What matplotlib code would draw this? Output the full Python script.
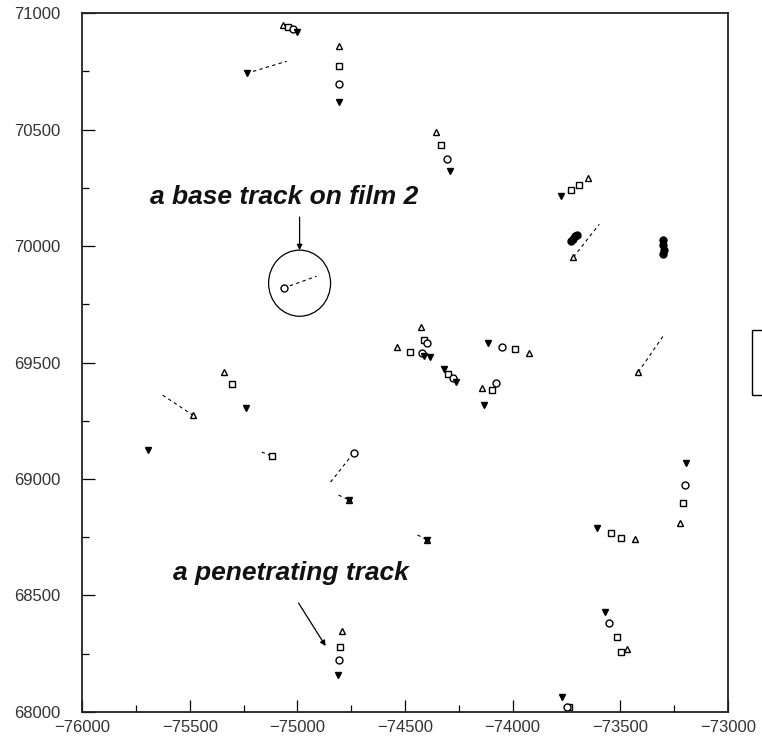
import matplotlib
matplotlib.use("Agg")
import matplotlib.pyplot as plt
from matplotlib.patches import Ellipse, Rectangle
from matplotlib.ticker import MultipleLocator

# track segments, one array per film marker
tri_up_x = [-75069, -74809, -74354, -73648, -73717, -74535, -74424, -73922,
            -75343, -73430, -73467, -74795, -73416, -73221, -74758, -74396,
            -75487, -74140]
tri_up_y = [70948, 70858, 70489, 70292, 69953, 69567, 69652, 69541,
            69459, 68742, 68270, 68348, 69459, 68811, 68910, 68738,
            69275, 69390]

square_x = [-75046, -74809, -74335, -73727, -73690, -74479, -74414, -73991,
            -75306, -75120, -73541, -73495, -73207, -73513, -73495, -73736,
            -74804, -74094, -74298]
square_y = [70940, 70773, 70433, 70240, 70262, 69545, 69597, 69558,
            69408, 69099, 68768, 68747, 68897, 68322, 68257, 68021,
            68279, 69382, 69451]

circle_x = [-75022, -74809, -74307, -74420, -74396, -74047, -75064, -74739,
            -73197, -73550, -74809, -74279, -74075, -73745]
circle_y = [70931, 70695, 70373, 69540, 69584, 69567, 69820, 69112,
            68974, 68382, 68223, 69433, 69412, 68021]

tri_dn_x = [-75004, -75236, -74809, -74289, -73773, -74382, -74112, -75241,
            -75696, -74131, -73606, -73193, -73569, -73768, -74813, -74317,
            -74261, -74410, -74758, -74396]
tri_dn_y = [70918, 70742, 70618, 70322, 70215, 69524, 69584, 69305,
            69124, 69317, 68790, 69069, 68429, 68064, 68159, 69472,
            69416, 69530, 68910, 68738]

# dense blobs of overlapping segments
blob_x = [-73728, -73718, -73708, -73700, -73302, -73300, -73298, -73300]
blob_y = [70022, 70032, 70042, 70050, 70025, 70005, 69985, 69965]

# base tracks (dashed)
base_x0 = [-75236, -73717, -73416, -75064, -75626, -75166, -74846, -74809, -74442]
base_y0 = [70742, 69953, 69459, 69820, 69360, 69116, 68987, 68931, 68760]
base_x1 = [-75050, -73597, -73300, -74911, -75487, -75120, -74739, -74758, -74396]
base_y1 = [70794, 70094, 69614, 69871, 69275, 69099, 69112, 68910, 68738]

plt.rcParams["font.family"] = ["Liberation Sans", "DejaVu Sans"]

fig = plt.figure(figsize=(7.62, 7.37), dpi=100)
ax = fig.add_axes([0.108, 0.034, 0.847, 0.948])

for x0, y0, x1, y1 in zip(base_x0, base_y0, base_x1, base_y1):
    ax.plot([x0, x1], [y0, y1], color="black", lw=0.8, ls=(0, (3, 3)))

mk = dict(ls="none", ms=5, mew=1.0, color="black")
ax.plot(tri_up_x, tri_up_y, marker="^", mfc="white", **mk)
ax.plot(square_x, square_y, marker="s", mfc="white", **mk)
ax.plot(circle_x, circle_y, marker="o", mfc="white", **mk)
ax.plot(tri_dn_x, tri_dn_y, marker="v", mfc="black", **mk)
ax.plot(blob_x, blob_y, marker="o", mfc="black", **mk)

# annotations
ax.add_patch(Ellipse((-74990, 69841), 288, 284, fill=False, lw=0.9, color="black"))
ax.annotate("", xy=(-74990, 69983), xytext=(-74990, 70125),
            arrowprops=dict(arrowstyle="-|>", lw=0.9, color="black",
                            mutation_scale=8, shrinkA=0, shrinkB=0))
ax.text(-75064, 70210, "a base track on film 2", fontsize=19, style="italic",
        weight="bold", color="#111111", ha="center", va="center")
ax.annotate("", xy=(-74869, 68283), xytext=(-74995, 68468),
            arrowprops=dict(arrowstyle="-|>", lw=0.9, color="black",
                            mutation_scale=8, shrinkA=0, shrinkB=0))
ax.text(-75032, 68596, "a penetrating track", fontsize=19, style="italic",
        weight="bold", color="#111111", ha="center", va="center")

ax.set_xlim(-76000, -73000)
ax.set_ylim(68000, 71000)
ax.xaxis.set_major_locator(MultipleLocator(500))
ax.xaxis.set_minor_locator(MultipleLocator(250))
ax.yaxis.set_major_locator(MultipleLocator(500))
ax.yaxis.set_minor_locator(MultipleLocator(250))
ax.tick_params(which="major", direction="in", length=9, width=0.9,
               labelsize=12, labelcolor="#333333", pad=6)
ax.tick_params(which="minor", direction="in", length=5, width=0.9)
ax.tick_params(axis="y", pad=16)
for s in ax.spines.values():
    s.set_linewidth(1.3)
    s.set_color("#222222")

# legend box cut off at right edge
fig.add_artist(Rectangle((752 / 762, (737 - 395) / 737), 0.05, 65 / 737,
                         transform=fig.transFigure, fill=False, lw=1.0,
                         color="black", clip_on=False))

fig.savefig("out.png", dpi=100)
